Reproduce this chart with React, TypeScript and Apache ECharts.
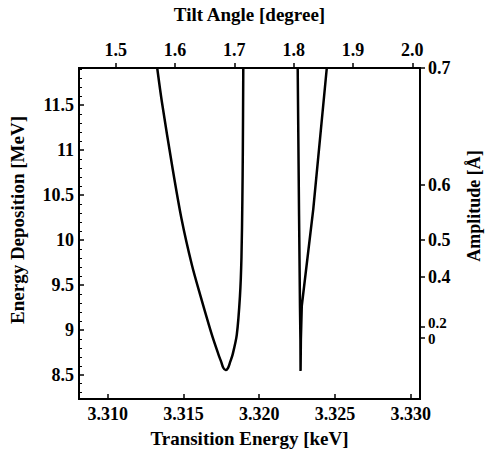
import React, { useEffect, useRef } from "react";
import * as echarts from "echarts";

// Bottom axis: Transition Energy [keV]
const energyTicks = [3.31, 3.315, 3.32, 3.325, 3.33];
// Top axis: Tilt Angle [degree]
const angleTicks = [1.5, 1.6, 1.7, 1.8, 1.9, 2.0];
// Left axis: Energy Deposition [MeV]
const depositionTicks = [8.5, 9, 9.5, 10, 10.5, 11, 11.5];
const depositionMinorTicks = [
  8.3, 8.4, 8.6, 8.7, 8.8, 8.9, 9.1, 9.2, 9.3, 9.4, 9.6, 9.7, 9.8, 9.9,
  10.1, 10.2, 10.3, 10.4, 10.6, 10.7, 10.8, 10.9, 11.1, 11.2, 11.3, 11.4,
  11.6, 11.7, 11.8, 11.9,
];
// Right axis: Amplitude [Å] (non-linear), placed at deposition-axis positions
const amplitudeLabels = ["0", "0.2", "0.4", "0.5", "0.6", "0.7"];
const amplitudeAtDeposition = [8.911, 9.029, 9.591, 10.002, 10.617, 11.913];

// Curve A (U-shaped)
const curveAEnergy = [
  3.31327, 3.31358, 3.31428, 3.31487, 3.31556, 3.31613, 3.31688, 3.31731,
  3.31750, 3.31763, 3.31778, 3.31794, 3.31808, 3.31825, 3.31852, 3.31873,
  3.31883, 3.31889, 3.31892, 3.31895,
];
const curveADeposition = [
  11.914, 11.536, 10.801, 10.239, 9.721, 9.375, 8.943, 8.727, 8.640, 8.578,
  8.552, 8.575, 8.640, 8.727, 8.943, 9.375, 9.807, 10.455, 10.995, 11.914,
];
// Curve B (V-shaped)
const curveBEnergy = [
  3.32254, 3.32263, 3.32269, 3.32272, 3.32273, 3.32275, 3.32281, 3.32357,
  3.32446,
];
const curveBDeposition = [
  11.914, 10.272, 9.267, 8.889, 8.543, 8.889, 9.267, 10.347, 11.914,
];

const FONT = "Liberation Serif";

function amplitudeLabelFor(v: number) {
  let best = 0;
  for (let i = 0; i < amplitudeAtDeposition.length; i++) {
    if (
      Math.abs(amplitudeAtDeposition[i] - v) <
      Math.abs(amplitudeAtDeposition[best] - v)
    )
      best = i;
  }
  return amplitudeLabels[best];
}

export default function App() {
  const ref = useRef<HTMLDivElement>(null);
  useEffect(() => {
    if (!ref.current) return;
    const chart = echarts.init(ref.current, undefined, { renderer: "svg" });
    const labelStyle = {
      color: "#000",
      fontFamily: FONT,
      fontWeight: "bold" as const,
      fontSize: 18,
    };
    const nameStyle = {
      color: "#000",
      fontFamily: FONT,
      fontWeight: "bold" as const,
      fontSize: 19,
    };
    const lineStyle = { color: "#000", width: 2 };
    const tickLine = { color: "#000", width: 1.5 };
    const yMin = 8.23;
    const yMax = 11.914;
    const rightMain = amplitudeAtDeposition.slice(2);
    const rightLow = amplitudeAtDeposition.slice(1, 2);
    const rightZero = amplitudeAtDeposition.slice(0, 1);
    const rightAxis = (
      values: number[],
      fontSize: number,
      padding: number[]
    ) => ({
      type: "value",
      position: "right",
      min: yMin,
      max: yMax,
      axisLine: { show: true, lineStyle },
      axisTick: {
        show: true,
        inside: false,
        length: 5,
        customValues: values,
        lineStyle: tickLine,
      },
      axisLabel: {
        ...labelStyle,
        margin: 8,
        customValues: values,
        formatter: (v: number) => "{t|" + amplitudeLabelFor(v) + "}",
        rich: {
          t: {
            color: "#000",
            fontFamily: FONT,
            fontWeight: "bold",
            fontSize,
            padding,
          },
        },
      },
      splitLine: { show: false },
    });
    chart.setOption({
      animation: false,
      backgroundColor: "#fff",
      grid: { left: 79, right: 65, top: 65, bottom: 47, containLabel: false },
      xAxis: [
        {
          type: "value",
          position: "bottom",
          min: 3.30811,
          max: 3.33061,
          axisLine: { show: true, lineStyle },
          axisTick: {
            show: true,
            inside: true,
            length: 5,
            customValues: energyTicks,
            lineStyle: tickLine,
          },
          axisLabel: {
            ...labelStyle,
            margin: 6,
            customValues: energyTicks,
            formatter: (v: number) => v.toFixed(3),
          },
          splitLine: { show: false },
          name: "Transition Energy [keV]",
          nameLocation: "middle",
          nameGap: 30,
          nameTextStyle: nameStyle,
        },
        {
          type: "value",
          position: "top",
          min: 1.4381,
          max: 2.013,
          axisLine: { show: true, lineStyle },
          axisTick: {
            show: true,
            inside: false,
            length: 5,
            customValues: angleTicks,
            lineStyle: tickLine,
          },
          axisLabel: {
            ...labelStyle,
            margin: 9,
            customValues: angleTicks,
            formatter: (v: number) => v.toFixed(1),
          },
          splitLine: { show: false },
          name: "Tilt Angle [degree]",
          nameLocation: "middle",
          nameGap: 44,
          nameTextStyle: nameStyle,
        },
      ],
      yAxis: [
        {
          type: "value",
          position: "left",
          min: yMin,
          max: yMax,
          axisLine: { show: true, lineStyle },
          axisTick: {
            show: true,
            inside: true,
            length: 5,
            customValues: depositionTicks,
            lineStyle: tickLine,
          },
          axisLabel: {
            ...labelStyle,
            margin: 5,
            customValues: depositionTicks,
            formatter: (v: number) => String(v),
          },
          splitLine: { show: false },
        },
        rightAxis(rightMain, 18, [0, 0, 0, 0]),
        rightAxis(rightLow, 15, [0, 0, 9, 0]),
        rightAxis(rightZero, 15, [3, 0, 0, 0]),
        {
          type: "value",
          position: "left",
          min: yMin,
          max: yMax,
          axisLine: { show: true, lineStyle },
          axisTick: {
            show: true,
            inside: true,
            length: 3,
            customValues: depositionMinorTicks,
            lineStyle: { color: "#000", width: 1 },
          },
          axisLabel: { show: false },
          splitLine: { show: false },
        },
      ],
      graphic: [
        {
          type: "text",
          x: 17,
          y: 220,
          rotation: Math.PI / 2,
          style: {
            text: "Energy Deposition [MeV]",
            fill: "#000",
            fontFamily: FONT,
            fontWeight: "bold",
            fontSize: 19,
            textAlign: "center",
            textVerticalAlign: "middle",
          },
        },
        {
          type: "text",
          x: 474,
          y: 206,
          rotation: Math.PI / 2,
          style: {
            text: "Amplitude [Å]",
            fill: "#000",
            fontFamily: FONT,
            fontWeight: "bold",
            fontSize: 18,
            textAlign: "center",
            textVerticalAlign: "middle",
          },
        },
      ],
      series: [
        {
          type: "line",
          xAxisIndex: 0,
          yAxisIndex: 0,
          data: curveAEnergy.map((x, i) => [x, curveADeposition[i]]),
          showSymbol: false,
          smooth: 0.3,
          lineStyle: { color: "#000", width: 2.5 },
          silent: true,
        },
        {
          type: "line",
          xAxisIndex: 0,
          yAxisIndex: 0,
          data: curveBEnergy.map((x, i) => [x, curveBDeposition[i]]),
          showSymbol: false,
          smooth: false,
          lineStyle: { color: "#000", width: 2.5 },
          silent: true,
        },
      ],
    });
    return () => chart.dispose();
  }, []);
  return (
    <div
      ref={ref}
      style={{ position: "fixed", left: 0, top: 0, width: 485, height: 453 }}
    />
  );
}
